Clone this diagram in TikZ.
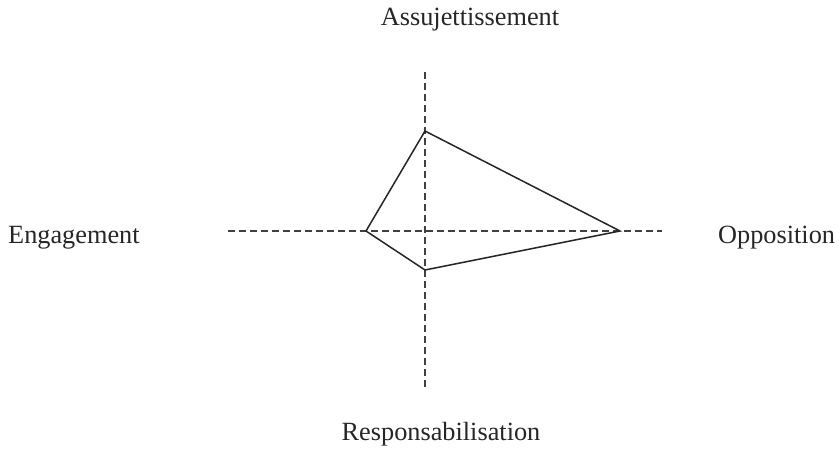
\documentclass[tikz,border=0pt]{standalone}
\usepackage{fontspec}
\setmainfont{Liberation Serif}
\begin{document}
\begin{tikzpicture}[x=1pt,y=-1pt,
  axis/.style={line width=1.3pt,draw=black!75,dash pattern=on 7pt off 4pt},
  poly/.style={line width=1.5pt,draw=black!85,line join=miter},
  lbl/.style={inner sep=0pt,font=\fontsize{26.3}{30}\selectfont,text=black!85}]
\useasboundingbox (0,0) rectangle (839,450);
\coordinate (vt) at (425,72);
\coordinate (vb) at (425,390);
\coordinate (hl) at (228,231);
\coordinate (hr) at (662,231);
\draw[axis] (vt) -- (vb);
\draw[axis] (hl) -- (hr);
\coordinate (pt) at (425,131);
\coordinate (pr) at (620,231);
\coordinate (pb) at (425,270);
\coordinate (pl) at (366,231);
\draw[poly] (pt) -- (pr) -- (pb) -- (pl) -- cycle;
\node[lbl,anchor=base] (a) at (470,25) {Assujettissement};
\node[lbl,anchor=base west] (e) at (8,243) {Engagement};
\node[lbl,anchor=base west] (o) at (718,243) {Opposition};
\node[lbl,anchor=base] (r) at (441,440) {Responsabilisation};
\end{tikzpicture}
\end{document}
